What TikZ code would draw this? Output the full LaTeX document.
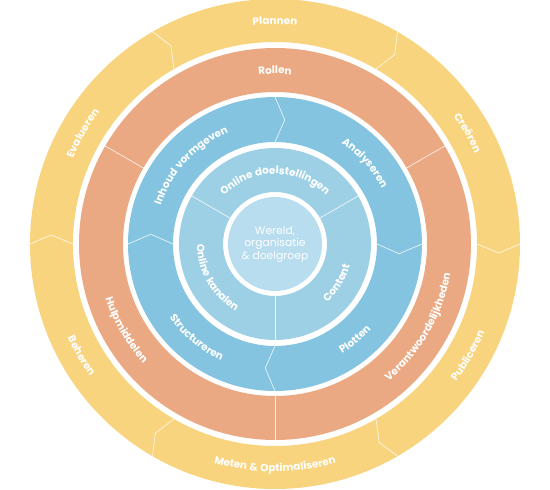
\documentclass[tikz,border=0pt]{standalone}
\usepackage{fontspec}
\setmainfont{Poppins}
\newfontfamily\ringfont[LetterSpace=4]{Poppins}
\usetikzlibrary{decorations.text}
\definecolor{Sun}{HTML}{F8D47F}
\definecolor{Clay}{HTML}{EAA983}
\definecolor{Sky}{HTML}{84C4E0}
\definecolor{SkyLight}{HTML}{9ED0E5}
\definecolor{SkyPale}{HTML}{B7DDEE}
\newcommand\lbl{\ringfont\fontsize{10.4}{12}\selectfont\bfseries\color{white}}
\tikzset{split/.style={draw=white,line width=.7pt,line join=round,opacity=.8},ringlabel/.style={decorate,decoration={text along path,text align=center,text={|\lbl|#1}}}}
\newcommand\uparc[3]{\path[ringlabel={#3}] ({#1+80}:#2) arc[start angle={#1+80},end angle={#1-80},radius=#2];}
\newcommand\downarc[3]{\path[ringlabel={#3}] ({#1-80}:#2) arc[start angle={#1-80},end angle={#1+80},radius=#2];}

\begin{document}
\begin{tikzpicture}[x=1pt,y=1pt]
        \useasboundingbox (-275,-246) rectangle (275,244);
        \fill[Sun,even odd rule] (0,0) circle[radius=245] (0,0) circle[radius=202];
        \fill[Clay,even odd rule] (0,0) circle[radius=196] (0,0) circle[radius=152];
        \fill[Sky,even odd rule] (0,0) circle[radius=147] (0,0) circle[radius=102];
        \fill[SkyLight,even odd rule] (0,0) circle[radius=96] (0,0) circle[radius=52];
        \fill[SkyPale] (0,0) circle[radius=47];
        \foreach \a in {0,60,...,300}
          \draw[split] (\a:245)--({\a-2.3}:224)--(\a:202);
        \foreach \a in {30,150,270}
          \draw[split] (\a:196)--(\a:152);
        \foreach \a in {0,90,180,270}
          \draw[split] (\a:147)--({\a-4.5}:124.5)--(\a:102);
        \foreach \a in {30,150,270}
          \draw[split] (\a:96)--(\a:52);
        \node[align=center,text=white,font=\fontsize{10.8}{12.5}\selectfont] (world) at (0,0) {Wereld,\\organisatie\\\& doelgroep};
        \uparc{90}{219.5}{Plannen}
        \uparc{30}{219.5}{Creëren}
        \uparc{150}{219.5}{Evalueren}
        \downarc{330}{227.5}{Publiceren}
        \downarc{270}{227.5}{Meten {\&} Optimaliseren}
        \downarc{210}{227.5}{Beheren}
        \uparc{90}{170}{Rollen}
        \downarc{330}{178}{Verantwoordelijkheden}
        \downarc{210}{178}{Hulpmiddelen}
        \uparc{137}{120.5}{Inhoud vormgeven}
        \uparc{42}{120.5}{Analyseren}
        \downarc{310}{128.5}{Plotten}
        \downarc{230}{128.5}{Structureren}
        \uparc{90}{70}{Online doelstellingen}
        \downarc{328}{78}{Content}
        \downarc{210}{78}{Online kanalen}
      \end{tikzpicture}
\end{document}
